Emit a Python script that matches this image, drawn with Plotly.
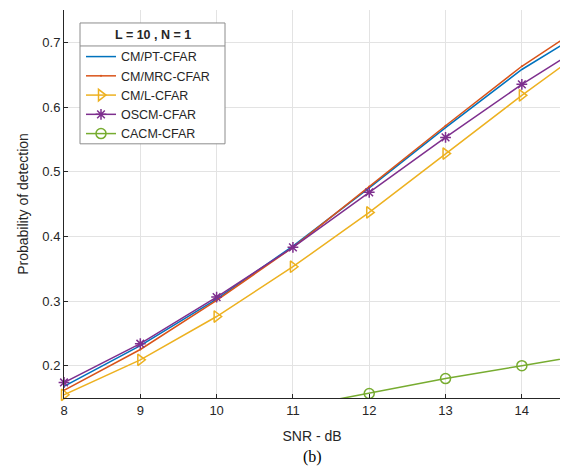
import plotly.graph_objects as go

snr = [8, 9, 10, 11, 12, 13, 14, 15]
pt_cfar = [0.168, 0.231, 0.303, 0.385, 0.475, 0.568, 0.658, 0.730]
mrc_cfar = [0.162, 0.225, 0.301, 0.383, 0.477, 0.571, 0.663, 0.741]
l_cfar = [0.155, 0.209, 0.276, 0.353, 0.437, 0.528, 0.618, 0.704]
os_cfar = [0.174, 0.234, 0.306, 0.383, 0.468, 0.553, 0.635, 0.709]
snr_ca = [11, 12, 13, 14, 15]
ca_cfar = [0.135, 0.157, 0.180, 0.200, 0.220]

x_ticks = [8, 9, 10, 11, 12, 13, 14]
y_ticks = [0.2, 0.3, 0.4, 0.5, 0.6, 0.7]

W, H = 561, 469
L, R, T, B = 64, 1, 10, 70.5
pw, ph = W - L - R, H - T - B

def px(xp):
    return (xp - L) / pw

def py(yp):
    return (H - B - yp) / ph

fig = go.Figure()
fig.add_trace(go.Scatter(x=snr, y=pt_cfar, name="CM/PT-CFAR", mode="lines",
                         line=dict(color="#0072BD", width=1.5)))
fig.add_trace(go.Scatter(x=snr, y=mrc_cfar, name="CM/MRC-CFAR", mode="lines+markers",
                         line=dict(color="#D95319", width=1.5),
                         marker=dict(symbol="circle", size=2, color="#D95319"),
                         cliponaxis=False))
fig.add_trace(go.Scatter(x=snr, y=l_cfar, name="CM/L-CFAR", mode="lines+markers",
                         line=dict(color="#EDB120", width=1.5),
                         marker=dict(symbol="triangle-right-open", size=10, color="#EDB120",
                                     line=dict(width=1.5)),
                         cliponaxis=False))
fig.add_trace(go.Scatter(x=snr, y=os_cfar, name="OSCM-CFAR", mode="lines+markers",
                         line=dict(color="#7E2F8E", width=1.5),
                         marker=dict(symbol="asterisk-open", size=9, color="#7E2F8E",
                                     line=dict(width=1.5, color="#7E2F8E")),
                         cliponaxis=False))
fig.add_trace(go.Scatter(x=snr_ca, y=ca_cfar, name="CACM-CFAR", mode="lines+markers",
                         line=dict(color="#77AC30", width=1.5),
                         marker=dict(symbol="circle-open", size=10, color="#77AC30",
                                     line=dict(width=1.5)),
                         cliponaxis=True))

axis_common = dict(showgrid=True, gridcolor="#e3e3e3", gridwidth=1,
                   showline=True, linecolor="#262626", linewidth=1,
                   ticks="inside", ticklen=4, tickcolor="#262626",
                   tickfont=dict(family="Liberation Sans, Arial", size=13, color="#262626"),
                   zeroline=False, automargin=False)

fig.update_xaxes(range=[8, 14.5], tickvals=x_ticks, ticktext=[str(v) for v in x_ticks],
                 title=dict(text="SNR - dB", font=dict(family="Liberation Sans, Arial", size=14, color="#262626"),
                            standoff=14), **axis_common)
fig.update_yaxes(range=[0.15, 0.75], tickvals=y_ticks, ticktext=[f"{v:.1f}" for v in y_ticks],
                 title=dict(text="Probability of detection", font=dict(family="Liberation Sans, Arial", size=14, color="#262626"),
                            standoff=10), **axis_common)

# legend box with title separator
fig.add_shape(type="rect", xref="paper", yref="paper",
              x0=px(80), x1=px(225), y0=py(144), y1=py(23),
              line=dict(color="#8c8c8c", width=1), fillcolor="white", layer="above")
fig.add_shape(type="line", xref="paper", yref="paper",
              x0=px(80), x1=px(225), y0=py(46), y1=py(46),
              line=dict(color="#8c8c8c", width=1), layer="above")
fig.add_annotation(text="<b>L = 10 , N = 1</b>", xref="paper", yref="paper",
                   x=px(152.5), y=py(35), showarrow=False, xanchor="center", yanchor="middle",
                   font=dict(family="Liberation Sans, Arial", size=12.5, color="#262626"))
fig.add_annotation(text="(b)", xref="paper", yref="paper",
                   x=px(312), y=py(458), showarrow=False, xanchor="center", yanchor="middle",
                   font=dict(family="Liberation Serif, Times New Roman", size=16, color="black"))

fig.update_layout(
    width=W, height=H,
    margin=dict(l=L, r=R, t=T, b=B),
    plot_bgcolor="white", paper_bgcolor="white",
    showlegend=True,
    legend=dict(x=px(81), y=py(42), xanchor="left", yanchor="top",
                bgcolor="rgba(0,0,0,0)", borderwidth=0,
                font=dict(family="Liberation Sans, Arial", size=12.5, color="#262626"),
                tracegroupgap=0, itemwidth=30),
)

fig.write_html("out.html", config={"displayModeBar": False},
               post_script="document.body.style.margin='0';document.body.style.overflow='hidden';")
